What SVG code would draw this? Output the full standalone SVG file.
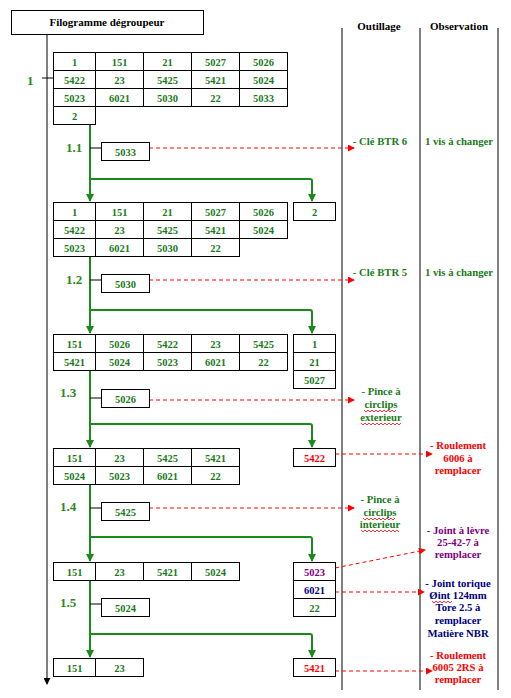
<svg xmlns="http://www.w3.org/2000/svg" width="511" height="698" viewBox="0 0 511 698">
<defs>
<marker id="ag" viewBox="0 0 8 8" refX="7" refY="4" markerWidth="4" markerHeight="4" orient="auto" markerUnits="strokeWidth"><path d="M0,0 L8,4 L0,8 z" fill="#1a8a1a"/></marker>
<marker id="ar" viewBox="0 0 8 8" refX="7" refY="4" markerWidth="7" markerHeight="7" orient="auto" markerUnits="strokeWidth"><path d="M0,0 L8,4 L0,8 z" fill="#ff0000"/></marker>
<marker id="ak" viewBox="0 0 8 8" refX="7" refY="4" markerWidth="3.5" markerHeight="3.5" orient="auto" markerUnits="strokeWidth"><path d="M0,0 L8,4 L0,8 z" fill="#000"/></marker>
</defs>
<style>
text{font-family:"Liberation Serif","Times New Roman",serif;font-weight:bold;text-anchor:middle}
.c{font-size:10.5px;fill:#1a7a1a}
.h{font-size:11px;fill:#000}
.l{font-size:13px;fill:#2a8a1a;text-anchor:start}
.o{font-size:10.7px}
.g{fill:#1a7a1a}.r{fill:#ff0000}.p{fill:#800080}.b{fill:#000080}
rect{fill:#fff;stroke:#000;stroke-width:1}
.cell{fill:none;stroke:#000;stroke-width:1}
.gl{fill:none;stroke:#1a8a1a;stroke-width:2}
.gray{fill:none;stroke:#808080;stroke-width:2}
.rd{fill:none;stroke:#ff0000;stroke-width:1;stroke-dasharray:4,3}
.tk{stroke:#000;stroke-width:1}
.wv{fill:none;stroke:#ff0000;stroke-width:0.8}
</style>

<g id="columns">
<line class="gray" x1="342" y1="28" x2="342" y2="690"/>
<line class="gray" x1="420" y1="28" x2="420" y2="690"/>
<line class="gray" x1="498" y1="28" x2="498" y2="690"/>
<text class="h" x="379" y="30">Outillage</text>
<text class="h" x="459" y="30">Observation</text>
</g>

<g id="title">
<rect x="11.5" y="10.5" width="192" height="24"/>
<text class="h" x="107" y="26">Filogramme dégroupeur</text>
</g>

<g id="connectors">
<line x1="47" y1="35" x2="47" y2="684" stroke="#808080" stroke-width="2" marker-end="url(#ak)"/>
<line class="tk" x1="42" y1="78" x2="53" y2="78"/>
<path class="gl" d="M90,124 V201" marker-end="url(#ag)"/>
<path class="gl" d="M90,179 H310 Q312,179 312,181 V201" marker-end="url(#ag)"/>
<path class="gl" d="M90,256 V333" marker-end="url(#ag)"/>
<path class="gl" d="M90,310 H310 Q312,310 312,312 V333" marker-end="url(#ag)"/>
<path class="gl" d="M90,370 V447" marker-end="url(#ag)"/>
<path class="gl" d="M90,424 H310 Q312,424 312,426 V447" marker-end="url(#ag)"/>
<path class="gl" d="M90,484 V561" marker-end="url(#ag)"/>
<path class="gl" d="M90,537 H310 Q312,537 312,539 V561" marker-end="url(#ag)"/>
<path class="gl" d="M90,580 V657" marker-end="url(#ag)"/>
<path class="gl" d="M90,634 H310 Q312,634 312,636 V657" marker-end="url(#ag)"/>
<line class="tk" x1="90" y1="148" x2="101" y2="148"/>
<line class="tk" x1="90" y1="280" x2="101" y2="280"/>
<line class="tk" x1="90" y1="398" x2="101" y2="398"/>
<line class="tk" x1="90" y1="508" x2="101" y2="508"/>
<line class="tk" x1="90" y1="604" x2="101" y2="604"/>
<line class="rd" x1="149" y1="148" x2="354" y2="148" marker-end="url(#ar)"/>
<line class="rd" x1="149" y1="280" x2="354" y2="280" marker-end="url(#ar)"/>
<line class="rd" x1="149" y1="400" x2="354" y2="400" marker-end="url(#ar)"/>
<line class="rd" x1="335" y1="454" x2="432" y2="454" marker-end="url(#ar)"/>
<line class="rd" x1="149" y1="508" x2="354" y2="508" marker-end="url(#ar)"/>
<line class="rd" x1="335" y1="568" x2="425" y2="550" marker-end="url(#ar)"/>
<line class="rd" x1="335" y1="592" x2="424" y2="592" marker-end="url(#ar)"/>
<line class="rd" x1="335" y1="671" x2="432" y2="671" marker-end="url(#ar)"/>
</g>

<g id="step1">
<text class="l" x="27" y="85">1</text>
<rect x="53.5" y="52.5" width="234" height="54"/>
<rect x="53.5" y="106.5" width="42" height="18"/>
<path class="cell" d="M53.5,70.5 H287.5 M53.5,88.5 H287.5 M95.5,52.5 V106.5 M143.5,52.5 V106.5 M191.5,52.5 V106.5 M239.5,52.5 V106.5"/>
<text class="c" x="74.5" y="66">1</text><text class="c" x="119.5" y="66">151</text><text class="c" x="167.5" y="66">21</text><text class="c" x="215.5" y="66">5027</text><text class="c" x="263.5" y="66">5026</text>
<text class="c" x="74.5" y="84">5422</text><text class="c" x="119.5" y="84">23</text><text class="c" x="167.5" y="84">5425</text><text class="c" x="215.5" y="84">5421</text><text class="c" x="263.5" y="84">5024</text>
<text class="c" x="74.5" y="102">5023</text><text class="c" x="119.5" y="102">6021</text><text class="c" x="167.5" y="102">5030</text><text class="c" x="215.5" y="102">22</text><text class="c" x="263.5" y="102">5033</text>
<text class="c" x="74.5" y="120">2</text>
</g>

<g id="step1-1">
<text class="l" x="66" y="152">1.1</text>
<rect x="101.5" y="142.5" width="48" height="18"/>
<text class="c" x="125.5" y="156">5033</text>
<text class="o g" x="380" y="145">- Clé BTR 6</text>
<text class="o g" x="459" y="145">1 vis à changer</text>
</g>

<g id="table2">
<rect x="53.5" y="202.5" width="234" height="36"/>
<rect x="53.5" y="238.5" width="186" height="18"/>
<path class="cell" d="M53.5,220.5 H287.5 M95.5,202.5 V256.5 M143.5,202.5 V256.5 M191.5,202.5 V256.5 M239.5,202.5 V238.5"/>
<text class="c" x="74.5" y="216">1</text><text class="c" x="119.5" y="216">151</text><text class="c" x="167.5" y="216">21</text><text class="c" x="215.5" y="216">5027</text><text class="c" x="263.5" y="216">5026</text>
<text class="c" x="74.5" y="234">5422</text><text class="c" x="119.5" y="234">23</text><text class="c" x="167.5" y="234">5425</text><text class="c" x="215.5" y="234">5421</text><text class="c" x="263.5" y="234">5024</text>
<text class="c" x="74.5" y="252">5023</text><text class="c" x="119.5" y="252">6021</text><text class="c" x="167.5" y="252">5030</text><text class="c" x="215.5" y="252">22</text>
<rect x="293.5" y="202.5" width="42" height="18"/>
<text class="c" x="314.5" y="216">2</text>
</g>

<g id="step1-2">
<text class="l" x="66" y="284">1.2</text>
<rect x="101.5" y="274.5" width="48" height="18"/>
<text class="c" x="125.5" y="288">5030</text>
<text class="o g" x="380" y="276">- Clé BTR 5</text>
<text class="o g" x="459" y="276">1 vis à changer</text>
</g>

<g id="table3">
<rect x="53.5" y="334.5" width="234" height="36"/>
<path class="cell" d="M53.5,352.5 H287.5 M95.5,334.5 V370.5 M143.5,334.5 V370.5 M191.5,334.5 V370.5 M239.5,334.5 V370.5"/>
<text class="c" x="74.5" y="348">151</text><text class="c" x="119.5" y="348">5026</text><text class="c" x="167.5" y="348">5422</text><text class="c" x="215.5" y="348">23</text><text class="c" x="263.5" y="348">5425</text>
<text class="c" x="74.5" y="366">5421</text><text class="c" x="119.5" y="366">5024</text><text class="c" x="167.5" y="366">5023</text><text class="c" x="215.5" y="366">6021</text><text class="c" x="263.5" y="366">22</text>
<rect x="293.5" y="334.5" width="42" height="54"/>
<path class="cell" d="M293.5,352.5 H335.5 M293.5,370.5 H335.5"/>
<text class="c" x="314.5" y="348">1</text><text class="c" x="314.5" y="366">21</text><text class="c" x="314.5" y="384">5027</text>
</g>

<g id="step1-3">
<text class="l" x="60" y="397">1.3</text>
<rect x="101.5" y="389.5" width="48" height="18"/>
<text class="c" x="125.5" y="403">5026</text>
<text class="o g" x="381" y="395">- Pince à</text>
<text class="o g" x="381" y="408">circlips</text>
<text class="o g" x="381" y="421">exterieur</text>
<path class="wv" d="M364,410 l2,2 l2,-2 l2,2 l2,-2 l2,2 l2,-2 l2,2 l2,-2 l2,2 l2,-2 l2,2 l2,-2 l2,2 l2,-2 l2,2 l2,-2"/>
<path class="wv" d="M361,423 l2,2 l2,-2 l2,2 l2,-2 l2,2 l2,-2 l2,2 l2,-2 l2,2 l2,-2 l2,2 l2,-2 l2,2 l2,-2 l2,2 l2,-2 l2,2 l2,-2 l2,2 l2,-2"/>
</g>

<g id="table4">
<rect x="53.5" y="448.5" width="186" height="36"/>
<path class="cell" d="M53.5,466.5 H239.5 M95.5,448.5 V484.5 M143.5,448.5 V484.5 M191.5,448.5 V484.5"/>
<text class="c" x="74.5" y="462">151</text><text class="c" x="119.5" y="462">23</text><text class="c" x="167.5" y="462">5425</text><text class="c" x="215.5" y="462">5421</text>
<text class="c" x="74.5" y="480">5024</text><text class="c" x="119.5" y="480">5023</text><text class="c" x="167.5" y="480">6021</text><text class="c" x="215.5" y="480">22</text>
<rect x="293.5" y="448.5" width="42" height="18"/>
<text class="c r" x="314.5" y="462">5422</text>
<text class="o r" x="458" y="449">- Roulement</text>
<text class="o r" x="458" y="462">6006 à</text>
<text class="o r" x="458" y="474">remplacer</text>
</g>

<g id="step1-4">
<text class="l" x="60" y="511">1.4</text>
<rect x="101.5" y="502.5" width="48" height="18"/>
<text class="c" x="125.5" y="516">5425</text>
<text class="o g" x="380" y="503">- Pince à</text>
<text class="o g" x="380" y="516">circlips</text>
<text class="o g" x="380" y="528">interieur</text>
<path class="wv" d="M363,518 l2,2 l2,-2 l2,2 l2,-2 l2,2 l2,-2 l2,2 l2,-2 l2,2 l2,-2 l2,2 l2,-2 l2,2 l2,-2 l2,2 l2,-2"/>
<path class="wv" d="M361,530 l2,2 l2,-2 l2,2 l2,-2 l2,2 l2,-2 l2,2 l2,-2 l2,2 l2,-2 l2,2 l2,-2 l2,2 l2,-2 l2,2 l2,-2 l2,2 l2,-2 l2,2"/>
</g>

<g id="table5">
<rect x="53.5" y="562.5" width="186" height="18"/>
<path class="cell" d="M95.5,562.5 V580.5 M143.5,562.5 V580.5 M191.5,562.5 V580.5"/>
<text class="c" x="74.5" y="576">151</text><text class="c" x="119.5" y="576">23</text><text class="c" x="167.5" y="576">5421</text><text class="c" x="215.5" y="576">5024</text>
<rect x="293.5" y="562.5" width="42" height="54"/>
<path class="cell" d="M293.5,580.5 H335.5 M293.5,598.5 H335.5"/>
<text class="c p" x="314.5" y="576">5023</text><text class="c b" x="314.5" y="594">6021</text><text class="c" x="314.5" y="612">22</text>
<text class="o p" x="458" y="534">- Joint à lèvre</text>
<text class="o p" x="458" y="546">25-42-7 à</text>
<text class="o p" x="458" y="558">remplacer</text>
<text class="o b" x="458" y="587">- Joint torique</text>
<text class="o b" x="458" y="599">Øint 124mm</text>
<path class="wv" d="M432,601 l2,2 l2,-2 l2,2 l2,-2 l2,2 l2,-2 l2,2 l2,-2 l2,2 l2,-2"/>
<text class="o b" x="458" y="611">Tore 2.5 à</text>
<text class="o b" x="458" y="624">remplacer</text>
<text class="o b" x="458" y="637">Matière NBR</text>
</g>

<g id="step1-5">
<text class="l" x="60" y="607">1.5</text>
<rect x="101.5" y="598.5" width="48" height="18"/>
<text class="c" x="125.5" y="612">5024</text>
</g>

<g id="table6">
<rect x="53.5" y="658.5" width="90" height="18"/>
<path class="cell" d="M95.5,658.5 V676.5"/>
<text class="c" x="74.5" y="672">151</text><text class="c" x="119.5" y="672">23</text>
<rect x="293.5" y="658.5" width="42" height="18"/>
<text class="c r" x="314.5" y="672">5421</text>
<text class="o r" x="458" y="659">- Roulement</text>
<text class="o r" x="458" y="671">6005 2RS à</text>
<text class="o r" x="458" y="683">remplacer</text>
</g>
</svg>
